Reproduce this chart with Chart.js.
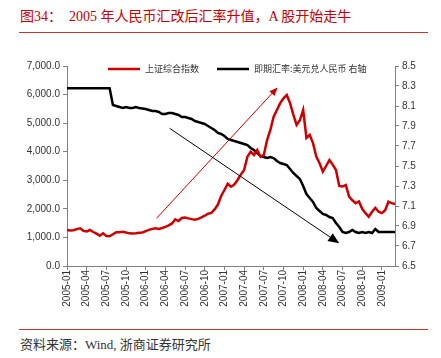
<!DOCTYPE html>
<html>
<head>
<meta charset="utf-8">
<script src="https://cdn.jsdelivr.net/npm/chart.js@4"></script>
<style>
  body { margin: 0; background: #fff; width: 441px; height: 358px; position: relative; overflow: hidden;
         font-family: "Liberation Serif", "Noto Sans CJK SC", serif; }
  #title { position: absolute; left: 20px; top: 5px; font-size: 14px; color: #c00000; white-space: nowrap; }
  .rule { position: absolute; left: 19px; width: 409px; height: 1px; background: #c0392b; }
  #src { position: absolute; left: 20px; top: 334px; font-size: 13px; color: #333; white-space: nowrap; }
  #wrap { position: absolute; left: 0; top: 40px; width: 441px; height: 280px; }
</style>
</head>
<body>
<div id="title">图34：&nbsp; 2005 年人民币汇改后汇率升值，A 股开始走牛</div>
<div class="rule" style="top:32px"></div>
<div id="wrap"><canvas id="c" width="441" height="280"></canvas></div>
<div class="rule" style="top:329px"></div>
<div id="src">资料来源：Wind, 浙商证券研究所</div>
<script>
// half-monthly points, 2005-01-01 .. 2009-03-01
const dates = [];
for (let y = 2005; y <= 2009; y++) {
  for (let m = 1; m <= 12; m++) {
    const mm = String(m).padStart(2, '0');
    dates.push(y + '-' + mm + '-01');
    if (y === 2009 && m === 3) break;
    dates.push(y + '-' + mm + '-16');
  }
}
const tickLabels = ['2005-01','2005-04','2005-07','2005-10','2006-01','2006-04','2006-07','2006-10',
  '2007-01','2007-04','2007-07','2007-10','2008-01','2008-04','2008-07','2008-10','2009-01'];

const seriesNames = ['上证综合指数', '即期汇率:美元兑人民币 右轴'];

const shIndex = [1260,1240,1250,1290,1318,1230,1210,1260,1190,1130,
  1062,1143,1050,1040,1110,1178,1185,1200,1170,1143,
  1140,1143,1160,1175,1220,1265,1300,1320,1300,1330,
  1370,1420,1490,1633,1575,1680,1700,1668,1640,1620,
  1650,1700,1760,1830,1860,1980,2150,2450,2660,2880,
  2776,2850,3010,3200,3360,3826,4000,3885,4060,3826,
  3885,4410,4760,5226,5460,5700,5870,5985,5700,5300,
  4935,5100,5460,4480,4585,4300,3827,3600,3300,3500,
  3710,3550,3360,2800,2780,2835,2426,2300,2200,2260,
  2000,1850,1726,1900,2030,1900,1850,1950,2250,2200,
  2170];

const usdCny = [8.277,8.277,8.277,8.277,8.277,8.277,8.277,8.277,8.277,8.277,
  8.277,8.277,8.277,8.277,8.11,8.10,8.09,8.08,8.09,8.08,
  8.08,8.09,8.08,8.075,8.07,8.06,8.05,8.05,8.04,8.02,
  8.02,8.03,8.03,8.02,8.01,7.99,7.99,7.98,7.97,7.95,
  7.94,7.93,7.92,7.90,7.88,7.86,7.83,7.82,7.80,7.77,
  7.76,7.75,7.74,7.73,7.72,7.71,7.68,7.66,7.63,7.60,
  7.59,7.58,7.59,7.58,7.55,7.53,7.52,7.51,7.47,7.43,
  7.40,7.37,7.30,7.22,7.18,7.14,7.08,7.05,7.02,7.01,
  6.99,6.98,6.93,6.89,6.84,6.83,6.84,6.86,6.84,6.83,
  6.84,6.83,6.84,6.83,6.87,6.84,6.84,6.84,6.84,6.84,
  6.84];

// trend arrows in data units: [category index, value]
const arrowUp = { from: [27.3, 1670], to: [64.2, 6250], axis: 'y', color: '#cc0000', head: 9 };
const arrowDown = { from: [31.3, 7.877], to: [83, 6.727], axis: 'y1', color: '#000', head: 12 };

const RED = '#cc0000';
const AXIS = '#808080';
const tickFont = { family: 'Liberation Sans', size: 10 };

const extras = {
  id: 'extras',
  afterDatasetsDraw(chart) {
    const ctx = chart.ctx, xs = chart.scales.x;
    [arrowUp, arrowDown].forEach(a => {
      const ys = chart.scales[a.axis];
      const x1 = xs.getPixelForValue(a.from[0]), y1 = ys.getPixelForValue(a.from[1]);
      const x2 = xs.getPixelForValue(a.to[0]), y2 = ys.getPixelForValue(a.to[1]);
      const ang = Math.atan2(y2 - y1, x2 - x1);
      ctx.save();
      ctx.strokeStyle = a.color; ctx.fillStyle = a.color; ctx.lineWidth = 1;
      ctx.beginPath();
      ctx.moveTo(x1, y1);
      ctx.lineTo(x2 - Math.cos(ang) * a.head * 0.8, y2 - Math.sin(ang) * a.head * 0.8);
      ctx.stroke();
      ctx.beginPath();
      ctx.moveTo(x2, y2);
      ctx.lineTo(x2 - a.head * Math.cos(ang - 0.4), y2 - a.head * Math.sin(ang - 0.4));
      ctx.lineTo(x2 - a.head * Math.cos(ang + 0.4), y2 - a.head * Math.sin(ang + 0.4));
      ctx.closePath();
      ctx.fill();
      ctx.restore();
    });

    // legend inside the plot
    const area = chart.chartArea;
    let x = area.left + 41;
    const y = area.top + 3;
    ctx.save();
    ctx.font = '9px "Noto Sans CJK SC"';
    ctx.textBaseline = 'middle';
    chart.data.datasets.forEach(ds => {
      ctx.strokeStyle = ds.borderColor; ctx.lineWidth = 2.5;
      ctx.beginPath(); ctx.moveTo(x, y); ctx.lineTo(x + 32, y); ctx.stroke();
      ctx.fillStyle = '#333';
      ctx.fillText(ds.label, x + 37, y);
      x += 37 + ctx.measureText(ds.label).width + 18;
    });
    ctx.restore();
  }
};

new Chart(document.getElementById('c'), {
  type: 'line',
  data: {
    labels: dates,
    datasets: [
      { label: seriesNames[0], data: shIndex, yAxisID: 'y', borderColor: RED, borderWidth: 2.5,
        pointRadius: 0, tension: 0 },
      { label: seriesNames[1], data: usdCny, yAxisID: 'y1', borderColor: '#000', borderWidth: 2.5,
        pointRadius: 0, tension: 0 }
    ]
  },
  options: {
    responsive: false,
    animation: false,
    layout: { padding: { top: 26, left: 0, right: 0, bottom: 0 } },
    plugins: { legend: { display: false }, tooltip: { enabled: false } },
    scales: {
      x: {
        offset: false,
        border: { color: AXIS },
        grid: {
          drawOnChartArea: false, tickLength: 4,
          tickColor: c => {
            const l = dates[c.index] || '';
            return l.endsWith('-01') && tickLabels.includes(l.slice(0, 7)) ? AXIS : 'rgba(0,0,0,0)';
          }
        },
        ticks: {
          autoSkip: false, minRotation: 90, maxRotation: 90, padding: 0, color: '#333', font: tickFont,
          callback: (v, i) => {
            const l = dates[i];
            return l.endsWith('-01') && tickLabels.includes(l.slice(0, 7)) ? l.slice(0, 7) : '';
          }
        },
        afterFit: s => { s.height = 54; }
      },
      y: {
        position: 'left', min: 0, max: 7000,
        border: { color: AXIS },
        grid: { drawOnChartArea: false, tickLength: 4, tickColor: AXIS },
        ticks: {
          stepSize: 1000, color: '#333', font: tickFont,
          callback: v => v.toLocaleString('en-US', { minimumFractionDigits: 1, maximumFractionDigits: 1 })
        },
        afterFit: s => { s.width = 67; }
      },
      y1: {
        position: 'right', min: 6.5, max: 8.5,
        border: { color: AXIS },
        grid: { drawOnChartArea: false, tickLength: 4, tickColor: AXIS },
        ticks: { stepSize: 0.2, color: '#333', font: tickFont, callback: v => Number(v).toFixed(1) },
        afterFit: s => { s.width = 46; }
      }
    }
  },
  plugins: [extras]
});
</script>
</body>
</html>
